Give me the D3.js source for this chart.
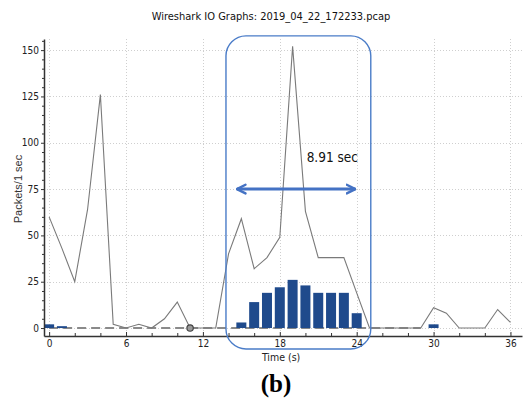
<!DOCTYPE html>
<html>
<head>
<meta charset="utf-8">
<script src="https://cdn.jsdelivr.net/npm/d3@7"></script>
<style>
  html, body { margin: 0; padding: 0; background: #fff; }
  svg { display: block; }
</style>
</head>
<body>
<svg id="chart" width="523" height="412"></svg>
<script>
// ---- data ----
const titleText = "Wireshark IO Graphs: 2019_04_22_172233.pcap";
const xLabel = "Time (s)";
const yLabel = "Packets/1 sec";
const caption = "(b)";
const annotationText = "8.91 sec";

// packets per second (gray line), t = 0..36
const lineTimes  = [0,1,2,3,4,5,6,7,8,9,10,11,12,13,14,15,16,17,18,19,20,21,22,23,24,25,26,27,28,29,30,31,32,33,34,35,36];
const lineValues = [60,43,25,64,126,2,0,2,0,5,14,0,0,0,40,59,32,38,49,152,63,38,38,38,19,0,0,0,0,0,11,8,0,0,0,10,3];

// bar series (blue)
const barTimes  = [0,1,15,16,17,18,19,20,21,22,23,24,30];
const barValues = [2,1,3,14,19,22,26,23,19,19,19,8,2];

// dashed zero series
const dashedTimes  = [0,29];
const dashedValues = [0,0];

// marker
const markerTimes = [11];
const markerValues = [0];

// ticks
const xMajorTicks = [0,6,12,18,24,30,36];
const xMinorTicks = [2,4,8,10,14,16,20,22,26,28,32,34];
const yMajorTicks = [0,25,50,75,100,125,150];
const yMinorTicks = [5,10,15,20,30,35,40,45,55,60,65,70,80,85,90,95,105,110,115,120,130,135,140,145,155];

// annotation (in data units)
const boxTimes = [13.8, 25.1];
const boxValues = [-11.3, 157.7];
const arrowTimes = [14.65, 23.9];
const arrowValue = [75];
const labelPos = [22.1, 89.5];

// ---- drawing ----
const svg = d3.select("#chart");
svg.append("rect").attr("width",523).attr("height",412).attr("fill","#fff");

const x = d3.scaleLinear().domain([-0.4, 36.9]).range([44, 522]);
const y = d3.scaleLinear().domain([-4.3, 156]).range([336, 39]);

// grid
const grid = svg.append("g").attr("stroke","#cfcfcf").attr("stroke-width",1).attr("stroke-dasharray","1,2");
grid.selectAll("line.v").data(xMajorTicks).join("line")
  .attr("x1",d=>Math.round(x(d))+0.5).attr("x2",d=>Math.round(x(d))+0.5)
  .attr("y1",y.range()[1]).attr("y2",y.range()[0]);
grid.selectAll("line.h").data(yMajorTicks).join("line")
  .attr("x1",x.range()[0]).attr("x2",x.range()[1])
  .attr("y1",d=>Math.round(y(d))+0.5).attr("y2",d=>Math.round(y(d))+0.5);

// dashed zero series
svg.append("path")
  .datum(dashedTimes.map((t,i)=>[t,dashedValues[i]]))
  .attr("d", d3.line().x(d=>x(d[0])).y(d=>y(d[1])))
  .attr("fill","none").attr("stroke","#8a8a8a").attr("stroke-width",2)
  .attr("stroke-dasharray","9,5");

// bars
const barW = x(0.39) - x(-0.39);
svg.append("g").selectAll("rect").data(barTimes.map((t,i)=>[t,barValues[i]])).join("rect")
  .attr("x", d=>x(d[0]) - barW/2)
  .attr("width", barW)
  .attr("y", d=>y(d[1]))
  .attr("height", d=>y(0)-y(d[1]))
  .attr("fill","#1f4a8c");

// line
svg.append("path")
  .datum(lineTimes.map((t,i)=>[t,lineValues[i]]))
  .attr("d", d3.line().x(d=>x(d[0])).y(d=>y(d[1])))
  .attr("fill","none").attr("stroke","#7a7a7a").attr("stroke-width",1.1)
  .attr("stroke-linejoin","miter");

// marker
svg.append("g").selectAll("circle").data(markerTimes.map((t,i)=>[t,markerValues[i]])).join("circle")
  .attr("cx",d=>x(d[0])).attr("cy",d=>y(d[1])).attr("r",3.2)
  .attr("fill","#9a9a9a").attr("stroke","#444").attr("stroke-width",1.2);

// axes
const axisFont = "\"DejaVu Sans Condensed\", sans-serif";
const xAxis = svg.append("g").attr("transform",`translate(0,${y.range()[0]})`)
  .call(d3.axisBottom(x).tickValues(xMajorTicks).tickSizeInner(-4).tickSizeOuter(0).tickPadding(4).tickFormat(d3.format("d")));
svg.append("g").attr("transform",`translate(0,${y.range()[0]})`)
  .call(d3.axisBottom(x).tickValues(xMinorTicks).tickSizeInner(-3).tickSizeOuter(0).tickFormat(""))
  .select(".domain").remove();
const yAxis = svg.append("g").attr("transform",`translate(${x.range()[0]},0)`)
  .call(d3.axisLeft(y).tickValues(yMajorTicks).tickSizeInner(3).tickSizeOuter(0).tickPadding(2).tickFormat(d3.format("d")));
svg.append("g").attr("transform",`translate(${x.range()[0]},0)`)
  .call(d3.axisLeft(y).tickValues(yMinorTicks).tickSizeInner(2).tickSizeOuter(0).tickFormat(""))
  .select(".domain").remove();
svg.selectAll(".tick line, .domain").attr("stroke","#333");
svg.selectAll(".tick text").attr("font-family",axisFont).attr("font-size",10).attr("fill","#222");
xAxis.select(".domain").attr("stroke-width",1.5);
yAxis.select(".domain").attr("stroke-width",1.5);

// axis labels
svg.append("text").text(xLabel)
  .attr("x", x(18.1)).attr("y", 361)
  .attr("text-anchor","middle").attr("font-family",axisFont).attr("font-size",10.5).attr("fill","#222");
svg.append("text").text(yLabel)
  .attr("transform",`translate(22,${y(75)}) rotate(-90)`)
  .attr("text-anchor","middle").attr("font-family","Liberation Sans, Arial, sans-serif").attr("font-size",11).attr("fill","#333");

// title
svg.append("text").text(titleText)
  .attr("x", 271).attr("y", 20)
  .attr("text-anchor","middle").attr("font-family",axisFont).attr("font-size",11).attr("fill","#111");

// annotation box
svg.append("rect")
  .attr("x", x(boxTimes[0])).attr("y", y(boxValues[1]))
  .attr("width", x(boxTimes[1]) - x(boxTimes[0]))
  .attr("height", y(boxValues[0]) - y(boxValues[1]))
  .attr("rx", 20).attr("ry", 20)
  .attr("fill","none").attr("stroke","#4a7cc8").attr("stroke-width",1.4);

// double arrow
const defs = svg.append("defs");
defs.append("marker").attr("id","arrowHead")
  .attr("viewBox","0 0 10 10").attr("refX", 9).attr("refY",5)
  .attr("markerWidth",3.6).attr("markerHeight",4).attr("orient","auto-start-reverse")
  .attr("markerUnits","strokeWidth")
  .append("path").attr("d","M1,1 L9,5 L1,9")
  .attr("fill","none").attr("stroke","#4472c4").attr("stroke-width",2.2)
  .attr("stroke-linecap","round").attr("stroke-linejoin","round");
svg.append("line")
  .attr("x1", x(arrowTimes[0])).attr("x2", x(arrowTimes[1]))
  .attr("y1", y(arrowValue[0])).attr("y2", y(arrowValue[0]))
  .attr("stroke","#4472c4").attr("stroke-width",3)
  .attr("marker-end","url(#arrowHead)").attr("marker-start","url(#arrowHead)");

svg.append("text").text(annotationText)
  .attr("x", x(labelPos[0])).attr("y", y(labelPos[1]))
  .attr("text-anchor","middle").attr("font-family",axisFont).attr("font-size",13.5).attr("fill","#111");

// caption
svg.append("text").text(caption)
  .attr("x", 276).attr("y", 392)
  .attr("text-anchor","middle").attr("font-family","Liberation Serif, Times New Roman, serif")
  .attr("font-weight","bold").attr("font-size",25).attr("fill","#000");
</script>
</body>
</html>
